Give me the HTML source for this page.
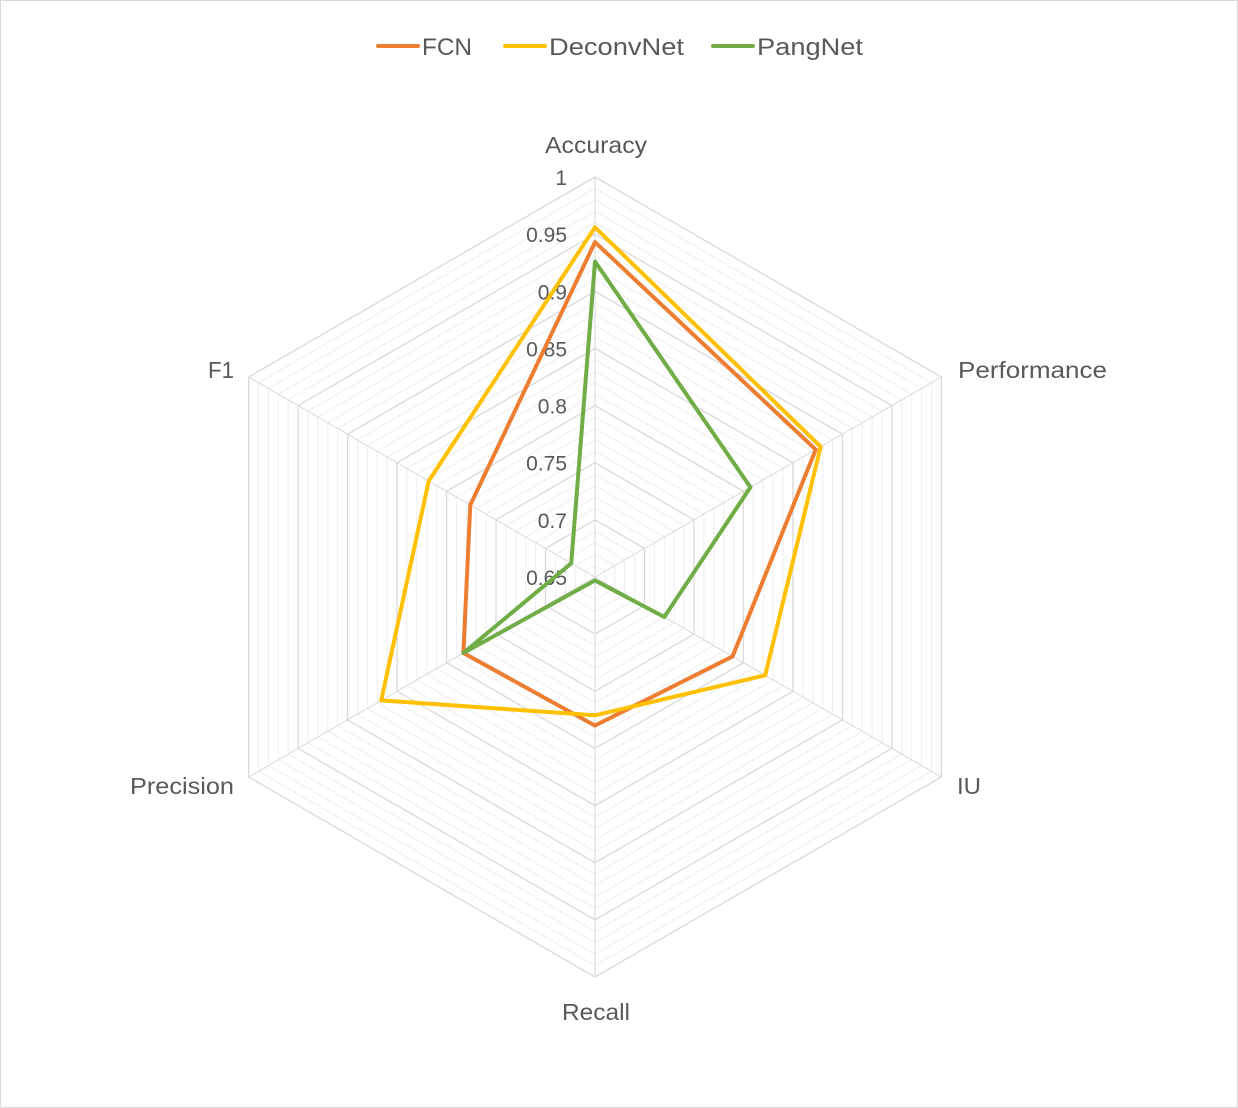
<!DOCTYPE html>
<html><head><meta charset="utf-8"><style>
html,body{margin:0;padding:0;background:#fff}
svg{display:block;font-family:"Liberation Sans",Arial,sans-serif}
</style></head><body>
<svg id="chart" width="1238" height="1108" viewBox="0 0 1238 1108">
<rect x="0.5" y="0.5" width="1237" height="1107" fill="#fff" stroke="#D9D9D9"/>
<g id="grid"></g><g id="ticks"></g><g id="axisLabels"></g><g id="series"></g><g id="legend"></g>
</svg>
<script>
const categories = ["Accuracy","Performance","IU","Recall","Precision","F1"];
const seriesNames = ["FCN","DeconvNet","PangNet"];
const fcnValues = [0.943,0.873,0.789,0.780,0.783,0.776];
const deconvValues = [0.956,0.878,0.822,0.771,0.866,0.818];
const pangValues = [0.926,0.807,0.720,0.653,0.783,0.674];
const tickLabels = ["0.65","0.7","0.75","0.8","0.85","0.9","0.95","1"];
const tickValues = [0.65,0.7,0.75,0.8,0.85,0.9,0.95,1];

const NS="http://www.w3.org/2000/svg";
const cx=595, cy=577, R=400, vmin=0.65, vmax=1;
const colors=["#ED7D31","#FFC000","#70AD47"];
const allSeries=[fcnValues,deconvValues,pangValues];
function rScale(v){return (v-vmin)/(vmax-vmin)*R;}
function angle(i){return -Math.PI/2 + i*2*Math.PI/categories.length;}
function pt(i,v){const r=rScale(v),a=angle(i);return [cx+r*Math.cos(a),cy+r*Math.sin(a)];}
function mk(tag,attrs,parent){const e=document.createElementNS(NS,tag);for(const k in attrs)e.setAttribute(k,attrs[k]);parent.appendChild(e);return e;}

const grid=document.getElementById('grid');
for(let k=1;k<=35;k++){
  const v=vmin+k*0.01;
  const pts=categories.map((c,i)=>pt(i,v).join(',')).join(' ');
  const major=(k%5===0);
  const g=mk('polygon',{points:pts,fill:'none',stroke:major?'#D9D9D9':'#EEEEEE','stroke-width':major?1.3:1},grid);
  
  
}
categories.forEach((c,i)=>{
  const [x,y]=pt(i,vmax);
  const l=mk('line',{x1:cx,y1:cy,x2:x,y2:y,stroke:'#D9D9D9','stroke-width':1},grid);
  
  
});
const ticks=document.getElementById('ticks');
tickValues.forEach((v,i)=>{
  const t=mk('text',{x:cx-28,y:cy-rScale(v)+8,'text-anchor':'end','font-size':21,fill:'#595959'},ticks);
  t.textContent=tickLabels[i];
  
  
});
const al=document.getElementById('axisLabels');
const labelPos=[[545,153,102],[958,378,149],[957,794,24],[562,1020,68],[130,794,104],[208,378,26]];
categories.forEach((c,i)=>{
  const p=labelPos[i];
  const t=mk('text',{x:p[0],y:p[1],'font-size':23,fill:'#595959',textLength:p[2],lengthAdjust:'spacingAndGlyphs'},al);
  t.textContent=c;
  
  
});
const sg=document.getElementById('series');
allSeries.forEach((vals,s)=>{
  const pts=vals.map((v,i)=>pt(i,v).join(',')).join(' ');
  const p=mk('polygon',{points:pts,fill:'none',stroke:colors[s],'stroke-width':4,'stroke-linejoin':'round'},sg);
  
  
});
const lg=document.getElementById('legend');
const legX=[378,505,713];
const legW=[50,135,106];
seriesNames.forEach((n,s)=>{
  const x=legX[s];
  const l=mk('line',{x1:x,y1:46,x2:x+40,y2:46,stroke:colors[s],'stroke-width':4,'stroke-linecap':'round'},lg);
  
  
  const t=mk('text',{x:x+44,y:55,'font-size':24,fill:'#595959',textLength:legW[s],lengthAdjust:'spacingAndGlyphs'},lg);
  t.textContent=n;
  
  
});
</script>
</body></html>
